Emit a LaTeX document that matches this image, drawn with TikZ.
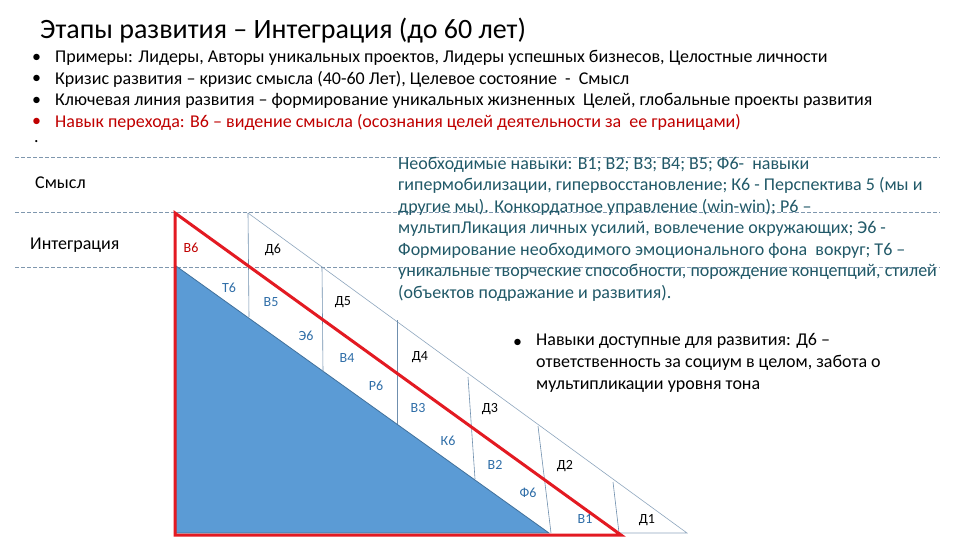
\documentclass[tikz,border=0pt]{standalone}
\usepackage{fontspec}
\setmainfont{Carlito}
\definecolor{redln}{HTML}{E31A22}
\definecolor{darkred}{HTML}{C00000}
\definecolor{teal}{HTML}{215968}
\definecolor{bluefill}{HTML}{5B9BD5}
\definecolor{blueedge}{HTML}{41719C}
\definecolor{grayln}{HTML}{8EA6BE}
\definecolor{divln}{HTML}{6F8FAE}
\definecolor{dashln}{HTML}{7F97AE}
\definecolor{lblblue}{HTML}{2F6EA8}
\tikzset{
  txt/.style={inner sep=0pt, anchor=west, font=\fontsize{18}{21.5}\selectfont},
  lbl/.style={inner sep=0pt, font=\fontsize{14}{16}\selectfont},
  lblb/.style={lbl, text=lblblue},
  lbld/.style={lbl, text=black},
  dashline/.style={draw=dashln, line width=0.7pt, dash pattern=on 4pt off 2pt},
  divider/.style={draw=divln, line width=0.6pt},
}
\begin{document}
\begin{tikzpicture}[x=1pt,y=-1pt]
\useasboundingbox[fill=white] (0,0) rectangle (960,540);
% dashed level lines
\draw[dashline] (15,157) -- (940,157);
\draw[dashline] (15,212) -- (940,212);
\draw[dashline] (15,267) -- (940,267);
% title
\node[inner sep=0pt, anchor=west, font=\fontsize{28}{32}\selectfont] (title) at (40,31) {Этапы развития – Интеграция (до 60 лет)};
% bullets
\node[txt] (b1d) at (32,58) {•};
\node[txt] (b1) at (55,58) {Примеры: Лидеры, Авторы уникальных проектов, Лидеры успешных бизнесов, Целостные личности};
\node[txt] (b2d) at (32,79) {•};
\node[txt] (b2) at (55,79) {Кризис развития – кризис смысла (40-60 Лет), Целевое состояние\ \ -\ \ Смысл};
\node[txt] (b3d) at (32,101) {•};
\node[txt] (b3) at (55,101) {Ключевая линия развития – формирование уникальных жизненных\ \ Целей, глобальные проекты развития};
\node[txt, text=darkred] (b4d) at (32,122) {•};
\node[txt, text=darkred] (b4) at (55,122) {Навык перехода: В6 – видение смысла (осознания целей деятельности за\ \ ее границами)};
\node[txt] (dot) at (34,142) {.};
% level names
\node[txt] (smysl) at (35,183) {Смысл};
\node[txt] (integr) at (30,245) {Интеграция};
% right paragraph
\node[inner sep=0pt, anchor=north west, align=left, text=teal, font=\fontsize{18}{21.5}\selectfont] (need) at (398,157)
{Необходимые навыки: В1; В2; В3; В4; В5; Ф6-\ \ навыки\\
гипермобилизации, гипервосстановление; К6 - Перспектива 5 (мы и\\
другие мы). Конкордатное управление (win-win); Р6 –\\
мультипЛикация личных усилий, вовлечение окружающих; Э6 -\\
Формирование необходимого эмоционального фона\ \ вокруг; Т6 –\\
уникальные творческие способности, порождение концепций, стилей\\
(объектов подражание и развития).};
% bottom right bullet
\node[txt] (b5d) at (513,343) {•};
\node[inner sep=0pt, anchor=north west, align=left, font=\fontsize{18}{22.2}\selectfont] (avail) at (536,333)
{Навыки доступные для развития: Д6 –\\
ответственность за социум в целом, забота о\\
мультипликации уровня тона};
% blue triangle
\draw[fill=bluefill, draw=blueedge, line width=0.8pt] (176,266) coordinate (bt) -- (176,533) coordinate (bl) -- (549,533) coordinate (br) -- cycle;
% outer gray band
\draw[draw=grayln, line width=0.6pt] (248,213) coordinate (gt) -- (687,533) coordinate (gr) -- (620,533);
% dividers
\draw[divider] (248,213) -- (249,317);
\draw[divider] (322,267) -- (323,372);
\draw[divider] (397,320) -- (397,424);
\draw[divider] (468,377) -- (475,479);
\draw[divider] (538,426) -- (551,533);
\draw[divider] (613,482) -- (619,533);
% red triangle
\draw[draw=redln, line width=3pt, line join=miter] (175,213) coordinate (rt) -- (175,535) coordinate (rl) -- (621,535) coordinate (rr) -- cycle;
% labels
\node[lbl, text=darkred] (v6) at (191,248) {В6};
\node[lbld] (d6) at (273,250) {Д6};
\node[lblb] (t6) at (229,288) {Т6};
\node[lblb] (v5) at (271,302) {В5};
\node[lbld] (d5) at (343,302) {Д5};
\node[lblb] (e6) at (306,336) {Э6};
\node[lblb] (v4) at (347,358) {В4};
\node[lbld] (d4) at (420,357) {Д4};
\node[lblb] (r6) at (376,386) {Р6};
\node[lblb] (v3) at (418,408) {В3};
\node[lbld] (d3) at (490,409) {Д3};
\node[lblb] (k6) at (448,441) {К6};
\node[lblb] (v2) at (495,465) {В2};
\node[lbld] (d2) at (565,466) {Д2};
\node[lblb] (f6) at (528,493) {Ф6};
\node[lblb] (v1) at (585,519) {В1};
\node[lbld] (d1) at (647,520) {Д1};
\end{tikzpicture}
\end{document}
